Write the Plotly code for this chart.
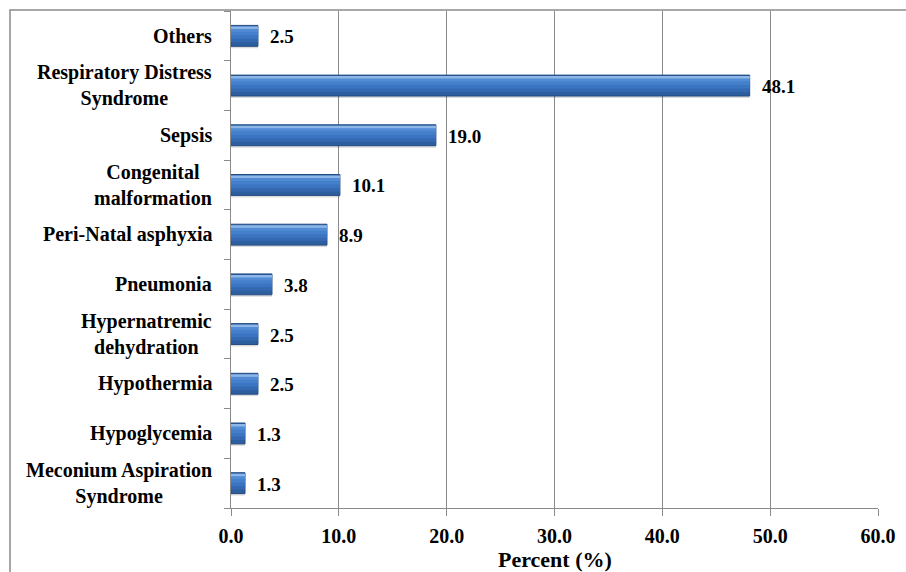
import plotly.graph_objects as go

# Data (bottom to top as drawn)
categories = [
    "Meconium Aspiration<br>Syndrome",
    "Hypoglycemia",
    "Hypothermia",
    "Hypernatremic<br>dehydration",
    "Pneumonia",
    "Peri-Natal asphyxia",
    "Congenital<br>malformation",
    "Sepsis",
    "Respiratory Distress<br>Syndrome",
    "Others",
]
percent = [1.3, 1.3, 2.5, 2.5, 3.8, 8.9, 10.1, 19.0, 48.1, 2.5]
x_ticks = [0, 10, 20, 30, 40, 50, 60]
x_title = "Percent (%)"

FONT = "Liberation Serif, Times New Roman, serif"
GRID = "#8a8a8a"

fig = go.Figure()

# Bar layers to imitate the bevelled Excel bars (offset, width, fill, line colour, line width)
layers = [
    (-0.25, 0.42, "rgba(0,0,0,0.14)", "rgba(0,0,0,0)", 0),
    (-0.21, 0.42, "#2D5E9E", "#234C82", 1),
    (-0.13, 0.32, "#3469B2", "rgba(0,0,0,0)", 0),
    (-0.06, 0.24, "#3B74C0", "rgba(0,0,0,0)", 0),
    (0.01, 0.16, "#447FCB", "rgba(0,0,0,0)", 0),
    (0.08, 0.09, "#518BD4", "rgba(0,0,0,0)", 0),
    (0.14, 0.05, "#8DB7E8", "rgba(0,0,0,0)", 0),
]
for off, w, col, lc, lw in layers:
    fig.add_trace(go.Bar(
        x=percent, y=categories, orientation="h",
        offset=off, width=w,
        marker=dict(color=col, line=dict(color=lc, width=lw)),
        hoverinfo="skip", showlegend=False,
    ))

# Data labels
for v, c in zip(percent, categories):
    fig.add_annotation(
        x=v, y=c, xref="x", yref="y", text=f"<b>{v:.1f}</b>",
        showarrow=False, xanchor="left", yanchor="middle", xshift=10, yshift=-1,
        font=dict(family=FONT, size=19, color="black"),
    )

# Category labels (centred multi-line, right-aligned block)
for c in categories:
    fig.add_annotation(
        x=0, y=c, xref="paper", yref="y", text=f"<b>{c}</b>",
        showarrow=False, xanchor="right", yanchor="middle", xshift=-17,
        align="center",
        font=dict(family=FONT, size=20, color="black"),
    )

# Axis title
fig.add_annotation(
    x=0.5, y=0, xref="paper", yref="paper", text=f"<b>{x_title}</b>",
    showarrow=False, xanchor="center", yanchor="middle", yshift=-51,
    font=dict(family=FONT, size=22, color="black"),
)

L, R, T, B = 231, 28, 11, 64
W, H = 906, 572
pw, ph = W - L - R, H - T - B

# Outer chart frame
fig.add_shape(
    type="rect", xref="paper", yref="paper",
    x0=(10 - L) / pw, x1=1.2, y0=-0.5, y1=(H - B - 10) / ph,
    line=dict(color=GRID, width=1.5), layer="below",
)

fig.update_layout(
    width=W, height=H,
    margin=dict(l=L, r=R, t=T, b=B, pad=0),
    paper_bgcolor="white", plot_bgcolor="white",
    barmode="overlay",
    xaxis=dict(
        range=[0, 60], tickvals=x_ticks, tickformat=".1f",
        showgrid=True, gridcolor=GRID, gridwidth=1,
        showline=True, linecolor=GRID, linewidth=1,
        ticks="outside", ticklen=7, tickcolor=GRID,
        zeroline=False, ticklabelstandoff=3,
        tickfont=dict(family=FONT, size=20, color="black", weight="bold"),
    ),
    yaxis=dict(
        type="category", categoryorder="array", categoryarray=categories,
        range=[-0.5, len(categories) - 0.5],
        showticklabels=False, showgrid=False,
        showline=True, linecolor=GRID, linewidth=1,
        ticks="outside", ticklen=6, tickcolor=GRID, tickson="boundaries",
        zeroline=False,
    ),
)

fig.write_html("out.html")
